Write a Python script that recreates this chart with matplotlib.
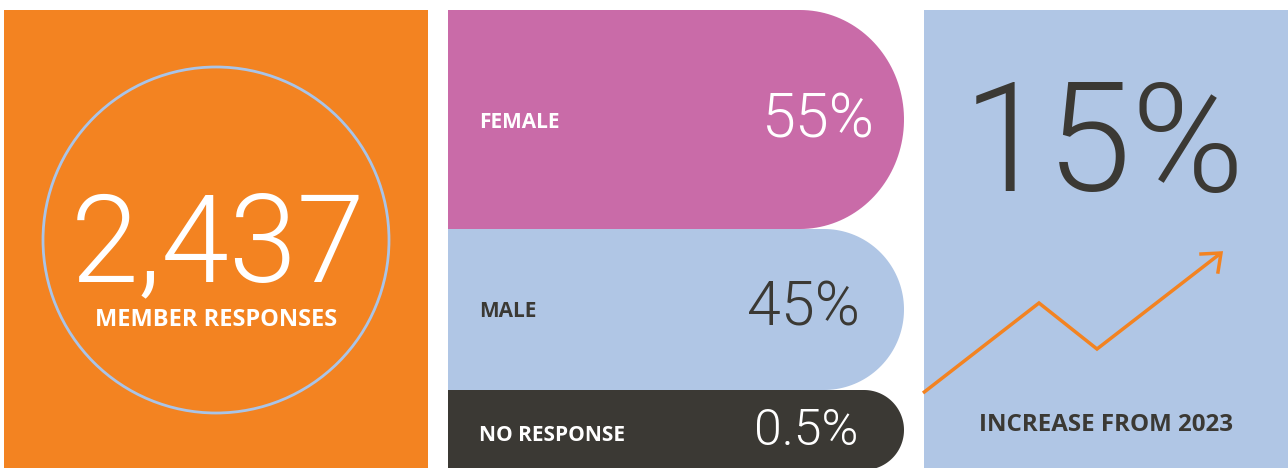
import numpy as np
import matplotlib
matplotlib.use("Agg")
import matplotlib.pyplot as plt
from matplotlib.patches import Rectangle, Circle, Polygon

# data
total_responses = 2437
response_label = "MEMBER RESPONSES"

gender_labels = ["FEMALE", "MALE", "NO RESPONSE"]
gender_shares = [55, 45, 0.5]
gender_colors = ["#C96BA8", "#B0C6E5", "#3B3934"]
label_colors = ["white", "#3B3934", "white"]

increase_pct = 15
since_year = 2023
# zigzag trend icon (pixel positions of the decoration)
trend_x = [923, 1039, 1097, 1221]
trend_y = [393, 303, 349, 253]

ORANGE = "#F38321"
LIGHTBLUE = "#B0C6E5"
DARK = "#3B3934"
THIN = "Roboto"
THIN_W = 300
BOLD = "Open Sans"

fig = plt.figure(figsize=(12.88, 4.68), dpi=100, facecolor="white")
ax = fig.add_axes([0, 0, 1, 1])
ax.set_xlim(0, 1288)
ax.set_ylim(468, 0)
ax.axis("off")

# left panel
ax.add_patch(Rectangle((4, 10), 424, 470, color=ORANGE, lw=0))
ax.add_patch(Circle((216, 240), 173, fill=False, ec="#A9C4E8", lw=2))
ax.text(218, 281, f"{total_responses:,}", color="white", fontsize=88,
        family=THIN, fontweight=THIN_W, ha="center", va="baseline")
ax.text(216, 326, response_label, color="white", fontsize=17,
        family=BOLD, fontweight="bold", ha="center", va="baseline")


# middle panel: rounded-end bars
def capsule(x0, x1, top, bottom, rx):
    cy = (top + bottom) / 2
    ry = (bottom - top) / 2
    t = np.linspace(-np.pi / 2, np.pi / 2, 80)
    xs = (x1 - rx) + rx * np.cos(t)
    ys = cy + ry * np.sin(t)
    pts = [(x0, bottom), (x0, top)] + list(zip(xs, ys)) + [(x0, bottom)]
    return Polygon(pts, closed=True, lw=0)


bands = [(10, 229, 104), (229, 390, 80), (390, 470, 40)]
label_base = [128, 317, 441]
value_base = [137, 326, 445]
value_right = [874, 860, 858]
value_size = [44, 44, 36]
for i, lab in enumerate(gender_labels):
    top, bottom, rx = bands[i]
    p = capsule(448, 904, top, bottom, rx)
    p.set_facecolor(gender_colors[i])
    ax.add_patch(p)
    ax.text(479, label_base[i], lab, color=label_colors[i], fontsize=15,
            family=BOLD, fontweight="bold", ha="left", va="baseline")
    ax.text(value_right[i], value_base[i], f"{gender_shares[i]:g}%",
            color=label_colors[i], fontsize=value_size[i], family=THIN,
            fontweight=THIN_W, ha="right", va="baseline")

# right panel
ax.add_patch(Rectangle((924, 10), 370, 470, color=LIGHTBLUE, lw=0))
ax.text(1104, 191, f"{increase_pct}%", color=DARK, fontsize=110,
        family=THIN, fontweight=THIN_W, ha="center", va="baseline")
ax.plot(trend_x, trend_y, color=ORANGE, lw=2.5, solid_joinstyle="miter",
        solid_capstyle="butt")
# open arrow head
ax.plot([1201, 1221, 1218], [254, 253, 272], color=ORANGE, lw=2.5,
        solid_joinstyle="miter")
ax.text(1106, 431, f"INCREASE FROM {since_year}", color=DARK, fontsize=17.4,
        family=BOLD, fontweight="bold", ha="center", va="baseline")

fig.savefig("out.png", dpi=100, facecolor="white")
